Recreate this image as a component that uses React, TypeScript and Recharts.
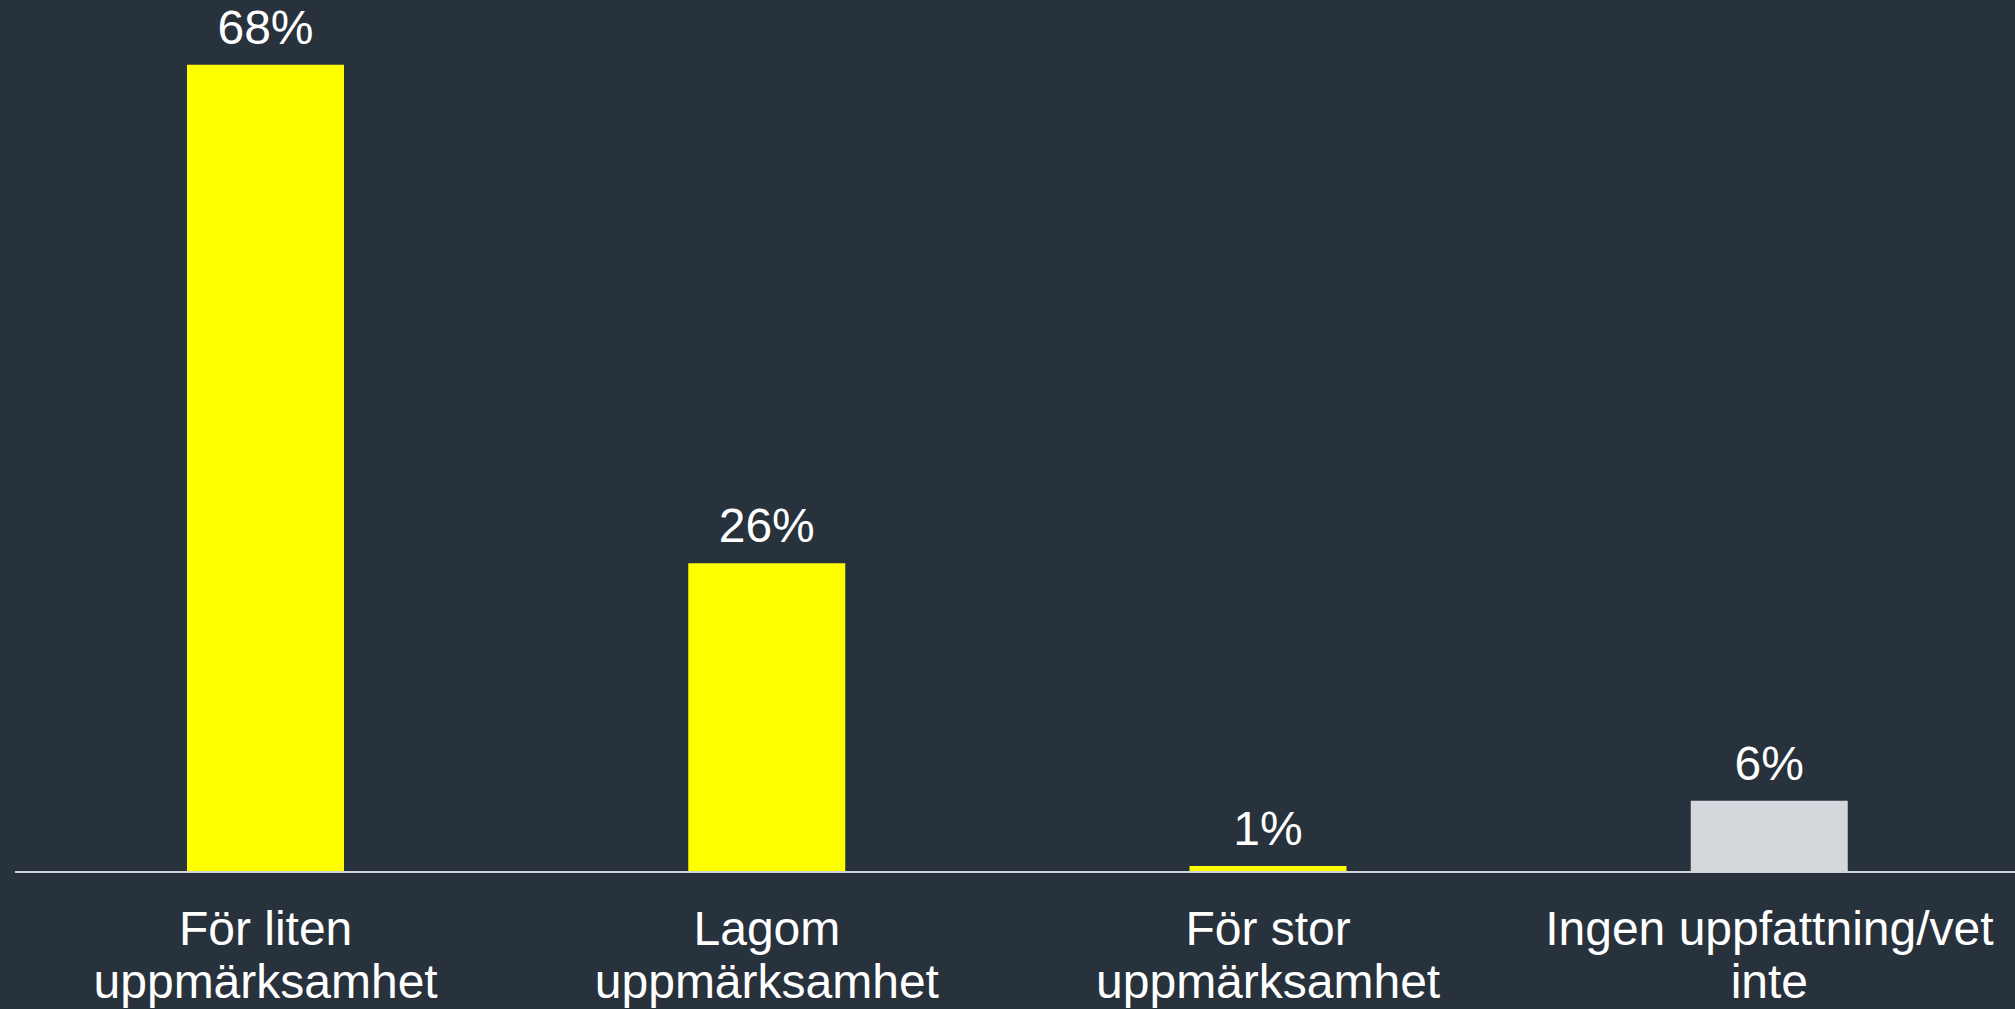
import React from "react";
import { BarChart, Bar, XAxis, YAxis, Cell, LabelList } from "recharts";

const categories = [
  "För liten\nuppmärksamhet",
  "Lagom\nuppmärksamhet",
  "För stor\nuppmärksamhet",
  "Ingen uppfattning/vet\ninte",
];
const values = [68, 26, 0.5, 6];
const valueLabels = ["68%", "26%", "1%", "6%"];
const colors = ["#ffff00", "#ffff00", "#ffff00", "#d4d7dc"];

const data = categories.map((c, i) => ({ name: c, value: values[i], label: valueLabels[i] }));

const FONT = "'Liberation Sans', Arial, Helvetica, sans-serif";
const BG = "#28323d";

const Tick = (props: any) => {
  const { x, y, payload } = props;
  const lines = String(payload.value).split("\n");
  return (
    <text x={x} y={y} textAnchor="middle" fill="#ffffff" fontSize={48} fontFamily={FONT}>
      {lines.map((l, i) => (
        <tspan key={i} x={x} dy={i === 0 ? 73 : 53}>
          {l}
        </tspan>
      ))}
    </text>
  );
};

export default function App() {
  return (
    <div
      style={{
        position: "fixed",
        left: 0,
        top: 0,
        width: 2015,
        height: 1009,
        overflow: "hidden",
        background: BG,
      }}
    >
      <BarChart
        width={2022}
        height={1009}
        data={data}
        margin={{ top: 41, right: 2, left: 15, bottom: 0 }}
        barCategoryGap={0}
      >
        <YAxis hide domain={[0, 70]} type="number" allowDataOverflow />
        <XAxis
          dataKey="name"
          interval={0}
          height={137}
          tickLine={false}
          tickSize={0}
          tickMargin={0}
          axisLine={{ stroke: "#d0d4d9", strokeWidth: 2 }}
          tick={<Tick />}
        />
        <Bar dataKey="value" barSize={157} isAnimationActive={false}>
          {data.map((d, i) => (
            <Cell key={i} fill={colors[i]} />
          ))}
          <LabelList
            dataKey="label"
            position="top"
            offset={21}
            fill="#ffffff"
            fontSize={48}
            fontFamily={FONT}
          />
        </Bar>
      </BarChart>
    </div>
  );
}
